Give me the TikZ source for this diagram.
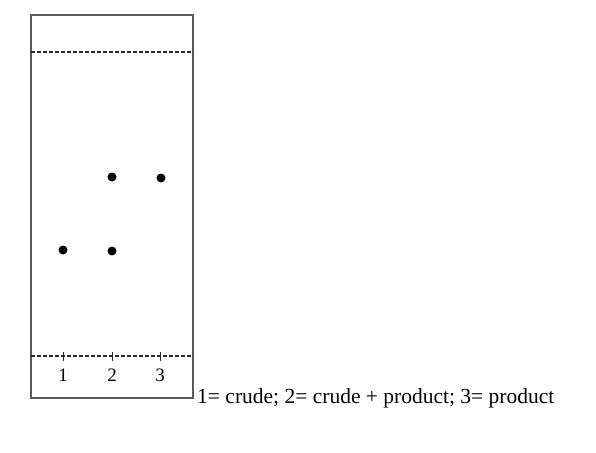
\documentclass[tikz,border=0pt]{standalone}
\usepackage{fontspec}
\setmainfont{Liberation Serif}
\usetikzlibrary{positioning}
\begin{document}
\begin{tikzpicture}[x=1pt, y=-1pt,
    every node/.style={font=\fontsize{19}{22}\selectfont},
    plate/.style={draw=black!65, line width=1.4pt},
    front/.style={draw=black!85, dash pattern=on 3.5pt off 2.5pt, line width=1.2pt},
    tickmark/.style={draw=black!85, line width=0.8pt},
    spot/.style={circle, fill=black, inner sep=0pt, minimum size=9pt},
    lane/.style={inner sep=1pt}
  ]
  \useasboundingbox (0,0) rectangle (596,452);
  % plate
  \coordinate (nw) at (31,15);
  \coordinate (se) at (193,398);
  \draw[plate] (nw) rectangle (se);
  % solvent front and baseline
  \coordinate (fl) at (31,52);  \coordinate (fr) at (193,52);
  \coordinate (bl) at (31,356); \coordinate (br) at (193,356);
  \draw[front] (fl) -- (fr);
  \draw[front] (bl) -- (br);
  % lanes
  \foreach \i/\x in {1/63, 2/112, 3/160} {
    \coordinate (t\i a) at (\x,352);
    \coordinate (t\i b) at (\x,361);
    \draw[tickmark] (t\i a) -- (t\i b);
    \node[lane, anchor=base] (l\i) at (\x,381) {\i};
  }
  % spots
  \node[spot] (s2a) at (112,177) {};
  \node[spot] (s3)  at (161,178) {};
  \node[spot] (s1)  at (63,250)  {};
  \node[spot] (s2b) at (112,251) {};
  % legend
  \node[anchor=base west, inner sep=0pt, font=\fontsize{21.5}{24}\selectfont]
    (key) at (197,403) {1= crude; 2= crude + product; 3= product};
\end{tikzpicture}
\end{document}
